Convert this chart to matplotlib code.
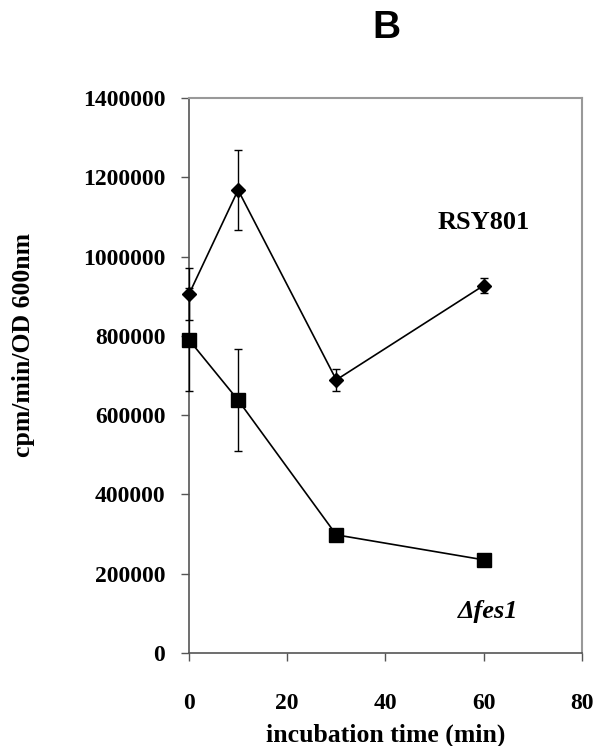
import matplotlib.pyplot as plt

# incubation time (min)
time_wt = [0, 10, 30, 60]
time_fes = [0, 10, 30, 60]

# RSY801 (wild type)
rsy801 = [905000, 1168000, 689000, 927000]
rsy801_err = [65000, 100000, 27000, 20000]

# delta fes1
fes1 = [790000, 638000, 298000, 235000]
fes1_err = [130000, 128000, 0, 0]

x_ticks = [0, 20, 40, 60, 80]
y_ticks = [0, 200000, 400000, 600000, 800000, 1000000, 1200000, 1400000]

plt.rcParams['font.family'] = ['Liberation Serif', 'DejaVu Serif']
plt.rcParams['font.weight'] = 'bold'

fig = plt.figure(figsize=(5.98, 7.46), dpi=100)
ax = fig.add_axes([0.316, 0.1247, 0.657, 0.7439])

ax.errorbar(time_wt, rsy801, yerr=rsy801_err, color='black', marker='D',
            markersize=7.5, linewidth=1.2, elinewidth=1.0, capsize=3,
            capthick=1.0, clip_on=False, zorder=5)
ax.errorbar(time_fes, fes1, yerr=fes1_err, color='black', marker='s',
            markersize=10, linewidth=1.2, elinewidth=1.0, capsize=3,
            capthick=1.0, clip_on=False, zorder=5)

ax.set_xlim(0, 80)
ax.set_ylim(0, 1400000)
ax.set_xticks(x_ticks)
ax.set_yticks(y_ticks)
ax.set_yticklabels([str(v) for v in y_ticks])
ax.tick_params(axis='both', direction='out', length=6, width=1, color='#555555',
               labelsize=17)
ax.tick_params(axis='y', pad=11)
ax.tick_params(axis='x', pad=23)

for side in ['left', 'bottom']:
    ax.spines[side].set_color('#555555')
    ax.spines[side].set_linewidth(1.2)
for side in ['top', 'right']:
    ax.spines[side].set_color('#999999')
    ax.spines[side].set_linewidth(1.5)

ax.set_xlabel('incubation time (min)', fontsize=18.5, fontweight='bold')
ax.set_ylabel('cpm/min/OD 600nm', fontsize=18.5, fontweight='bold')
ax.xaxis.set_label_coords(0.5, -0.127)
ax.yaxis.set_label_coords(-0.392, 0.555)

ax.text(60, 1085000, 'RSY801', fontsize=19, fontweight='bold', ha='center', va='center')
ax.text(61, 105000, '\u0394fes1', fontsize=19, fontweight='bold',
        style='italic', ha='center', va='center')

fig.text(0.647, 0.962, 'B', fontsize=28, fontweight='bold', family='Liberation Sans',
         ha='center', va='center')

fig.savefig('out.png', dpi=100)
